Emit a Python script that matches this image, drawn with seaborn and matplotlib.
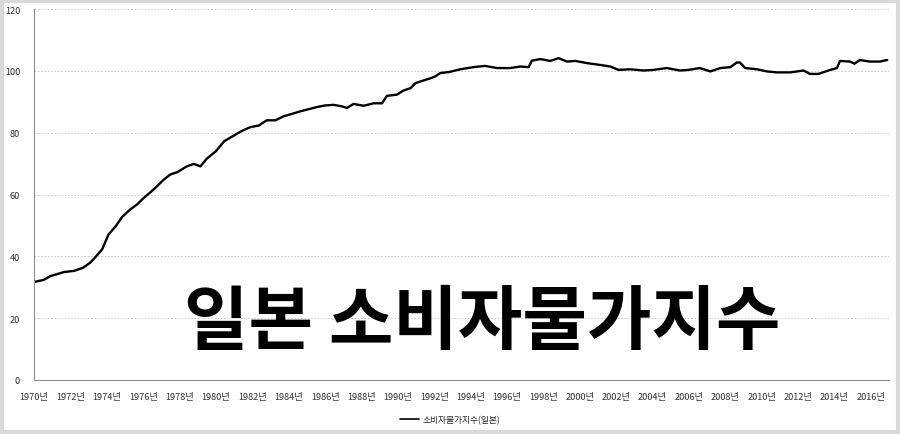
import matplotlib
matplotlib.use("Agg")
import matplotlib.pyplot as plt
import seaborn as sns
import pandas as pd
from matplotlib.patches import Rectangle
from matplotlib.lines import Line2D

# Data (decimal year, index value)
years = [1970.0, 1970.54, 1970.9, 1971.64, 1972.2, 1972.7, 1973.1, 1973.4, 1973.75,
         1974.1, 1974.5, 1974.85, 1975.3, 1975.67, 1976.03, 1976.4, 1976.77, 1977.13,
         1977.5, 1977.87, 1978.4, 1978.78, 1979.15, 1979.5, 1980.0, 1980.45, 1980.85,
         1981.44, 1981.9, 1982.35, 1982.8, 1983.27, 1983.72, 1984.19, 1984.64, 1985.1,
         1985.56, 1986.0, 1986.47, 1986.93, 1987.2, 1987.57, 1988.12, 1988.67, 1989.13,
         1989.4, 1989.95, 1990.3, 1990.7, 1990.96, 1991.42, 1991.8, 1992.06, 1992.34,
         1992.8, 1993.43, 1994.17, 1994.8, 1995.45, 1996.18, 1996.73, 1997.19, 1997.37,
         1997.83, 1998.38, 1998.84, 1999.3, 1999.75, 2000.4, 2001.13, 2001.68, 2002.13,
         2002.77, 2003.5, 2004.05, 2004.79, 2005.5, 2005.98, 2006.6, 2007.18, 2007.73,
         2008.28, 2008.64, 2008.8, 2009.1, 2009.74, 2010.3, 2010.83, 2011.57, 2012.3,
         2012.66, 2013.12, 2013.77, 2014.14, 2014.3, 2014.86, 2015.1, 2015.4, 2015.93,
         2016.5, 2016.9]
cpi = [31.7, 32.4, 33.6, 34.9, 35.3, 36.3, 38.0, 39.9, 42.3,
       47.1, 49.8, 52.8, 55.2, 56.8, 58.9, 60.7, 62.7, 64.8,
       66.5, 67.2, 69.1, 69.9, 69.1, 71.6, 74.0, 77.2, 78.6,
       80.6, 81.8, 82.3, 84.0, 84.0, 85.3, 86.1, 86.9, 87.6,
       88.3, 88.8, 89.0, 88.5, 88.0, 89.3, 88.7, 89.5, 89.5,
       91.9, 92.3, 93.6, 94.4, 96.0, 96.9, 97.6, 98.2, 99.3,
       99.6, 100.5, 101.2, 101.6, 100.9, 100.9, 101.4, 101.2, 103.3,
       103.8, 103.2, 104.1, 103.0, 103.2, 102.5, 101.9, 101.4, 100.3,
       100.5, 100.1, 100.3, 100.9, 100.1, 100.3, 100.9, 99.8, 100.9,
       101.2, 102.7, 102.7, 100.9, 100.5, 99.8, 99.5, 99.5, 100.1,
       99.0, 99.0, 100.3, 100.9, 103.2, 103.0, 102.3, 103.5, 103.0,
       103.0, 103.5]
tick_years = list(range(1970, 2017, 2))
tick_labels = [f"{y}년" for y in tick_years]
y_ticks = [0, 20, 40, 60, 80, 100, 120]
series_name = "소비자물가지수(일본)"
title_text = "일본 소비자물가지수"

df = pd.DataFrame({"year": years, "cpi": cpi})

sns.set_style("white")
plt.rcParams["font.family"] = ["Noto Sans CJK KR", "DejaVu Sans"]

fig = plt.figure(figsize=(9, 4.35), dpi=100)
ax = fig.add_axes([34 / 900, 54 / 435, 855 / 900, 371 / 435])

sns.lineplot(data=df, x="year", y="cpi", ax=ax, color="black", linewidth=1.7, legend=False)

ax.set_xlim(1970, 2017)
ax.set_ylim(0, 120)
ax.set_xticks(tick_years)
ax.set_xticklabels(tick_labels, fontsize=6.6, color="#333333")
ax.set_yticks(y_ticks)
ax.set_yticklabels([str(v) for v in y_ticks], fontsize=6.6, color="#333333")
ax.set_xlabel("")
ax.set_ylabel("")

ax.grid(axis="y", linestyle=(0, (2, 2)), color="#c4c4c4", linewidth=0.6)
ax.grid(axis="x", visible=False)
for s in ["top", "right"]:
    ax.spines[s].set_visible(False)
for s in ["left", "bottom"]:
    ax.spines[s].set_color("#8c8c8c")
    ax.spines[s].set_linewidth(0.8)
ax.tick_params(axis="both", which="major", length=3, width=0.8, color="#8c8c8c",
               direction="out", pad=6)
ax.tick_params(axis="y", pad=7)

# Big overlay title
fig.text(482 / 900, 1 - 324 / 435, title_text, fontsize=50.5, fontweight="bold",
         ha="center", va="center", color="black")

# Legend below
handle = Line2D([], [], color="black", linewidth=1.2)
fig.legend([handle], [series_name], loc="center", bbox_to_anchor=(450 / 900, 14 / 435),
           frameon=False, fontsize=6.3, handlelength=2.2, handletextpad=0.3)

# Outer frame
fig.patches.append(Rectangle((0.002, 0.004), 0.996, 0.992, transform=fig.transFigure,
                             fill=False, edgecolor="#d9d9d9", linewidth=3))

fig.savefig("out.png", dpi=100, facecolor="white")
